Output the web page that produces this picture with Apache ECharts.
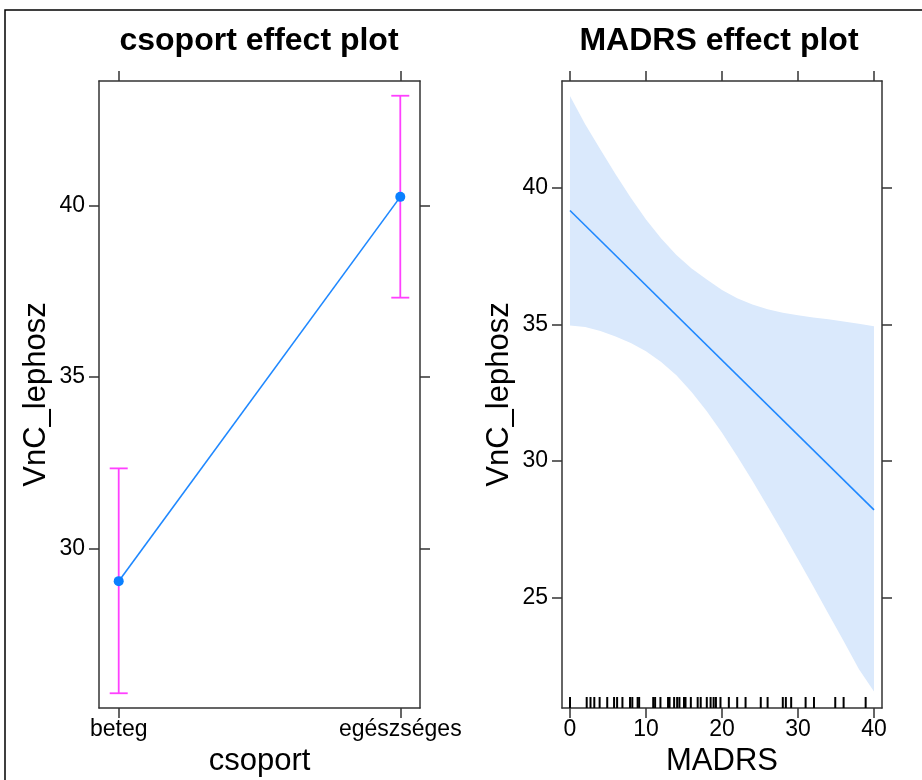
<!DOCTYPE html>
<html><head><meta charset="utf-8">
<script src="https://cdn.jsdelivr.net/npm/echarts@6/dist/echarts.min.js"></script>
<style>html,body{margin:0;padding:0;background:#fff}#c{width:922px;height:780px}</style>
</head><body><div id="c"></div>
<script>
// ---- data ----
const categories = ['beteg', 'egészséges'];
const csoportFit = [29.04, 40.25];
const csoportLower = [25.77, 37.31];
const csoportUpper = [32.33, 43.2];

const madrsFitX = [0, 40];
const madrsFitY = [39.16, 28.21];
const madrsBandX = [0, 2, 4, 6, 8, 10, 12, 14, 16, 18, 20, 22, 24, 26, 28, 30, 32, 34, 36, 38, 40];
const madrsUpper = [43.35, 42.32, 41.39, 40.49, 39.63, 38.83, 38.14, 37.53, 37.04, 36.64, 36.25, 35.95, 35.72, 35.55, 35.42, 35.33, 35.25, 35.18, 35.10, 35.02, 34.93];
const madrsLower = [34.95, 34.90, 34.75, 34.55, 34.31, 34.01, 33.62, 33.13, 32.52, 31.82, 31.03, 30.17, 29.27, 28.33, 27.38, 26.40, 25.41, 24.41, 23.41, 22.39, 21.56];
const madrsRug = [0, 2.2, 2.7, 3.2, 3.9, 4.9, 5.8, 6.2, 6.9, 7.9, 8.2, 8.9, 9.1, 10.95, 11.2, 11.9, 12.9, 13.1, 13.7, 14.1, 14.4, 15.0, 15.2, 15.9, 16.8, 17.2, 18.0, 18.5, 18.9, 19.2, 19.8, 20.9, 22.0, 23.1, 25.1, 26.0, 28.0, 28.4, 29.1, 31.0, 32.1, 34.9, 36.0, 38.9];

const leftYTicks = [30, 35, 40];
const leftXTicks = [1, 2];
const rightYTicks = [25, 30, 35, 40];
const rightXTicks = [0, 10, 20, 30, 40];

// ---- axis ranges ----
const L = { xmin: 0.93, xmax: 2.07, ymin: 25.34, ymax: 43.63 };
const R = { xmin: -1.05, xmax: 41.05, ymin: 20.96, ymax: 43.9 };

const FONT = 'Liberation Sans';
const boxColor = '#333';
const lineBlue = '#1f88ff';
const magenta = '#ff40ff';

function axis(o) {
  return Object.assign({
    type: 'value',
    splitLine: { show: false },
    axisLine: { show: true, onZero: false, lineStyle: { color: boxColor, width: 1.5 } },
    axisTick: { show: true, length: 10, customValues: o.ticks, lineStyle: { color: boxColor, width: 1.5 } },
    axisLabel: o.labels ? {
      show: true, customValues: o.ticks, color: '#000', fontFamily: FONT, fontSize: 23,
      margin: o.margin || 12, formatter: o.formatter
    } : { show: false },
    nameTextStyle: { color: '#000', fontFamily: FONT, fontSize: 31 }
  }, o.extra);
}

const option = {
  animation: false,
  backgroundColor: '#fff',
  title: [
    { text: 'csoport effect plot', left: 254, top: 20, textAlign: 'center',
      textStyle: { fontFamily: FONT, fontWeight: 'bold', fontSize: 32, color: '#000' } },
    { text: 'MADRS effect plot', left: 714, top: 20, textAlign: 'center',
      textStyle: { fontFamily: FONT, fontWeight: 'bold', fontSize: 32, color: '#000' } }
  ],
  graphic: [
    { type: 'rect', shape: { x: 5, y: 10, width: 960, height: 820 },
      style: { fill: 'none', stroke: '#000', lineWidth: 1.5 }, silent: true }
  ],
  grid: [
    { left: 99, top: 81, width: 321, height: 627, outerBoundsMode: 'none', containLabel: false },
    { left: 562, top: 81, width: 320, height: 627, outerBoundsMode: 'none', containLabel: false }
  ],
  xAxis: [
    axis({ ticks: leftXTicks, labels: true, margin: 10,
      formatter: v => categories[Math.round(v) - 1],
      extra: { gridIndex: 0, position: 'bottom', min: L.xmin, max: L.xmax,
        name: 'csoport', nameLocation: 'middle', nameGap: 36 } }),
    axis({ ticks: leftXTicks, labels: false,
      extra: { gridIndex: 0, position: 'top', min: L.xmin, max: L.xmax } }),
    axis({ ticks: rightXTicks, labels: true, margin: 10,
      extra: { gridIndex: 1, position: 'bottom', min: R.xmin, max: R.xmax,
        name: 'MADRS', nameLocation: 'middle', nameGap: 36 } }),
    axis({ ticks: rightXTicks, labels: false,
      extra: { gridIndex: 1, position: 'top', min: R.xmin, max: R.xmax } })
  ],
  yAxis: [
    axis({ ticks: leftYTicks, labels: true, margin: 14,
      extra: { gridIndex: 0, position: 'left', min: L.ymin, max: L.ymax,
        name: 'VnC_lephosz', nameLocation: 'middle', nameGap: 47 } }),
    axis({ ticks: leftYTicks, labels: false,
      extra: { gridIndex: 0, position: 'right', min: L.ymin, max: L.ymax } }),
    axis({ ticks: rightYTicks, labels: true, margin: 14,
      extra: { gridIndex: 1, position: 'left', min: R.ymin, max: R.ymax,
        name: 'VnC_lephosz', nameLocation: 'middle', nameGap: 47 } }),
    axis({ ticks: rightYTicks, labels: false,
      extra: { gridIndex: 1, position: 'right', min: R.ymin, max: R.ymax } })
  ],
  series: [
    // left panel: fitted line with points
    {
      type: 'line', xAxisIndex: 0, yAxisIndex: 0,
      data: categories.map((c, i) => [i + 1, csoportFit[i]]),
      lineStyle: { color: lineBlue, width: 1.6 },
      itemStyle: { color: '#0a80ff' },
      symbol: 'circle', symbolSize: 10, showSymbol: true, z: 3
    },
    // left panel: error bars
    {
      type: 'custom', xAxisIndex: 0, yAxisIndex: 0, z: 2,
      data: categories.map((c, i) => [i + 1, csoportLower[i], csoportUpper[i]]),
      encode: { x: 0, y: [1, 2] },
      renderItem: function (params, api) {
        const x = api.value(0);
        const lo = api.coord([x, api.value(1)]);
        const hi = api.coord([x, api.value(2)]);
        const cap = 9;
        const st = { stroke: magenta, lineWidth: 1.8 };
        return { type: 'group', children: [
          { type: 'line', shape: { x1: lo[0], y1: lo[1], x2: hi[0], y2: hi[1] }, style: st },
          { type: 'line', shape: { x1: lo[0] - cap, y1: lo[1], x2: lo[0] + cap, y2: lo[1] }, style: st },
          { type: 'line', shape: { x1: hi[0] - cap, y1: hi[1], x2: hi[0] + cap, y2: hi[1] }, style: st }
        ]};
      }
    },
    // right panel: confidence band
    {
      type: 'custom', xAxisIndex: 2, yAxisIndex: 2, z: 1,
      data: [[madrsBandX[0], madrsUpper[0]]],
      encode: { x: 0, y: 1 },
      renderItem: function (params, api) {
        const pts = [];
        for (let i = 0; i < madrsBandX.length; i++) pts.push(api.coord([madrsBandX[i], madrsUpper[i]]));
        for (let i = madrsBandX.length - 1; i >= 0; i--) pts.push(api.coord([madrsBandX[i], madrsLower[i]]));
        return { type: 'polygon', shape: { points: pts }, style: { fill: '#dae9fc', stroke: 'none' } };
      }
    },
    // right panel: fitted line
    {
      type: 'line', xAxisIndex: 2, yAxisIndex: 2, z: 3,
      data: madrsFitX.map((x, i) => [x, madrsFitY[i]]),
      lineStyle: { color: lineBlue, width: 1.6 },
      showSymbol: false, symbol: 'none'
    },
    // right panel: rug
    {
      type: 'custom', xAxisIndex: 2, yAxisIndex: 2, z: 4,
      data: madrsRug.map(v => [v, R.ymin]),
      encode: { x: 0, y: 1 },
      renderItem: function (params, api) {
        const p = api.coord([api.value(0), R.ymin]);
        return { type: 'line', shape: { x1: p[0], y1: p[1], x2: p[0], y2: p[1] - 11 },
          style: { stroke: '#000', lineWidth: 2 } };
      }
    }
  ]
};

const chart = echarts.init(document.getElementById('c'), null, { renderer: 'canvas' });
chart.setOption(option);
</script></body></html>
